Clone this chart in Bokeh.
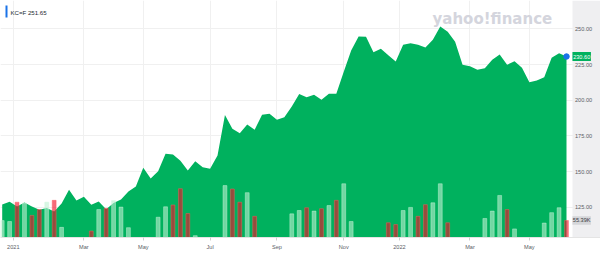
import numpy as np
from bokeh.plotting import figure
from bokeh.models import Range1d, FixedTicker, ColumnDataSource, Label, BoxAnnotation
from bokeh.core.properties import value
from bokeh.embed import file_html
from bokeh.resources import INLINE

# ---------------- data ----------------
symbol_text = "KC=F 251.65"
watermark = "yahoo!finance"

# weekly close (USd/lb), one value per week
price = [127.0, 128.9, 125.6, 128.4, 125.6, 123.3, 124.5, 122.1, 127.7, 137.3,
         129.8, 132.4, 126.8, 129.1, 123.7, 128.0, 130.5, 136.1, 139.6, 152.7,
         145.2, 150.3, 162.5, 162.0, 157.6, 150.8, 157.3, 153.1, 152.0, 161.3,
         189.6, 180.0, 176.9, 183.0, 179.3, 189.8, 190.5, 186.3, 188.1, 195.6,
         204.3, 202.1, 203.8, 200.4, 204.5, 204.5, 220.0, 234.8, 244.6, 244.4,
         233.6, 236.0, 231.5, 227.1, 238.8, 239.9, 238.8, 236.9, 242.3, 251.65,
         248.0, 241.0, 224.8, 223.8, 221.3, 222.4, 228.3, 232.0, 224.8, 227.3,
         222.7, 212.6, 213.8, 216.1, 229.7, 232.9, 230.6]

# weekly volume in thousands of contracts
volume_k = [55, 52, 115, 112, 72, 91, 115, 121, 33, 0,
            0, 0, 21, 91, 95, 120, 99, 32, 0, 0,
            0, 66, 100, 106, 159, 78, 6, 0, 0, 0,
            169, 158, 115, 146, 69, 0, 0, 0, 0, 77,
            88, 97, 86, 94, 104, 121, 175, 52, 0, 0,
            0, 0, 48, 42, 88, 98, 69, 107, 113, 175,
            48, 0, 0, 0, 0, 62, 86, 137, 91, 28,
            0, 0, 0, 47, 81, 97, 55.39]

# 1 = down week (red volume bar)
down_week = [0, 0, 1, 0, 1, 1, 0, 1, 0, 0,
             0, 0, 1, 0, 1, 0, 0, 0, 0, 0,
             0, 0, 0, 1, 1, 1, 0, 0, 0, 0,
             0, 1, 1, 0, 1, 0, 0, 0, 0, 0,
             0, 1, 0, 1, 0, 1, 0, 0, 0, 0,
             0, 0, 1, 1, 0, 0, 1, 1, 0, 0,
             1, 0, 0, 0, 0, 0, 0, 0, 1, 0,
             0, 0, 0, 0, 0, 0, 1]

x_tick_pos = [1.5, 11, 19, 28, 37, 46, 53.5, 63, 71]
x_tick_labels = ["2021", "Mar", "May", "Jul", "Sep", "Nov", "2022", "Mar", "May"]
price_ticks = [125, 150, 175, 200, 225, 250]
price_tick_labels = ["125.00", "150.00", "175.00", "200.00", "225.00", "250.00"]
last_price_label = "230.60"
last_volume_label = "55.39K"

# ---------------- layout constants ----------------
W, H = 600, 263
FRAME_H = 237
PANEL_PX = 572           # where the grey price-scale panel starts
PX_PER_WEEK = 7.425
X0 = -0.229
X1 = X0 + W / PX_PER_WEEK
Y0, Y1 = 103.85, 269.82
V1 = 772.0

GREEN = "#00b15e"
FONT = "Liberation Sans"


def px_x(px):
    return X0 + px / PX_PER_WEEK


def py_p(py):
    return Y1 - py / FRAME_H * (Y1 - Y0)


p = figure(width=W, height=H, x_range=Range1d(X0, X1), y_range=Range1d(Y0, Y1),
           toolbar_location=None, output_backend="svg", y_axis_location=None,
           min_border_left=0, min_border_top=0, min_border_right=0,
           min_border_bottom=H - FRAME_H)
p.extra_y_ranges = {"vol": Range1d(0, V1)}
p.outline_line_color = None
p.background_fill_color = "white"
p.border_fill_color = "white"

# grids
p.xgrid.ticker = FixedTicker(ticks=x_tick_pos)
p.ygrid.ticker = FixedTicker(ticks=price_ticks)
p.xgrid.grid_line_color = "#f0f0f0"
p.ygrid.grid_line_color = "#f0f0f0"

# x axis
xa = p.xaxis[0]
xa.ticker = FixedTicker(ticks=x_tick_pos)
xa.major_label_overrides = {(int(t) if float(t).is_integer() else t): lab
                            for t, lab in zip(x_tick_pos, x_tick_labels)}
xa.axis_line_color = "#e4e4e4"
xa.major_tick_line_color = "#d0d0d0"
xa.major_tick_out = 3
xa.major_tick_in = 0
xa.minor_tick_line_color = None
xa.major_label_standoff = 3
xa.major_label_text_font_size = "5.6px"
xa.major_label_text_color = "#5b6066"
xa.major_label_text_font = FONT

# price area
xs = np.arange(len(price))
src = ColumnDataSource(dict(x=xs, y2=price, y1=[Y0] * len(price)))
p.varea(x="x", y1="y1", y2="y2", source=src, fill_color=GREEN, fill_alpha=1)

# volume bars
vx, vt, vfill, vline, vfa = [], [], [], [], []
for i, (v, d) in enumerate(zip(volume_k, down_week)):
    if v <= 0:
        continue
    vx.append(i)
    vt.append(v)
    if d:
        vfill.append("#f0102a"); vline.append("#ff5a5f"); vfa.append(0.62)
    else:
        vfill.append("#bef0d2"); vline.append("#c8f3da"); vfa.append(0.6)
vsrc = ColumnDataSource(dict(x=vx, top=vt, fill=vfill, line=vline, fa=vfa))
p.vbar(x="x", top="top", bottom=0, width=0.52, source=vsrc, y_range_name="vol",
       fill_color="fill", fill_alpha="fa", line_color="line", line_alpha=0.65,
       line_width=0.7)

# grey price-scale panel on the right
p.quad(left=[px_x(PANEL_PX)], right=[X1], bottom=[Y0], top=[Y1],
       fill_color="#efeff1", line_color=None)

# price scale labels
p.text(x=[px_x(PANEL_PX + 2.5)] * len(price_ticks), y=price_ticks, text=price_tick_labels,
       text_font=value(FONT), text_font_size="5.6px", text_color="#5b6066",
       text_baseline="middle", text_align="left")

# last point
p.scatter(x=[xs[-1]], y=[price[-1]], size=5.5, fill_color="#1a73e8", line_color="#1a73e8")

# price tag and volume tag on the price scale
tag_x = px_x(PANEL_PX + 9.2)
p.rect(x=[tag_x], y=[price[-1]], width=18.5, height=9, width_units="screen",
       height_units="screen", fill_color=GREEN, line_color=None)
p.text(x=[tag_x], y=[price[-1]], text=[last_price_label], text_font=value(FONT),
       text_font_size="5.6px", text_color="white", text_align="center",
       text_baseline="middle")
p.rect(x=[tag_x], y=[volume_k[-1]], width=18.5, height=8.5, width_units="screen",
       height_units="screen", fill_color="#d5d6d9", line_color=None, y_range_name="vol")
p.text(x=[tag_x], y=[volume_k[-1]], text=[last_volume_label], text_font=value(FONT),
       text_font_size="5.6px", text_color="#3c4043", text_align="center",
       text_baseline="middle", y_range_name="vol")

# header
p.add_layout(BoxAnnotation(left=px_x(5), right=px_x(7), top=py_p(5), bottom=py_p(17),
                           fill_color="#1a73e8", fill_alpha=1, line_color=None))
p.add_layout(Label(x=px_x(10), y=py_p(11.5), text=symbol_text, text_font_size="6.1px",
                   text_color="#232a31", text_font=FONT, text_baseline="middle"))

# watermark
p.add_layout(Label(x=px_x(432), y=py_p(18.5), text=watermark, text_font_size="15px",
                   text_font_style="bold", text_color="#d4d5dd", text_font="DejaVu Sans",
                   text_baseline="alphabetic"))

open("out.html", "w").write(file_html(p, INLINE))
